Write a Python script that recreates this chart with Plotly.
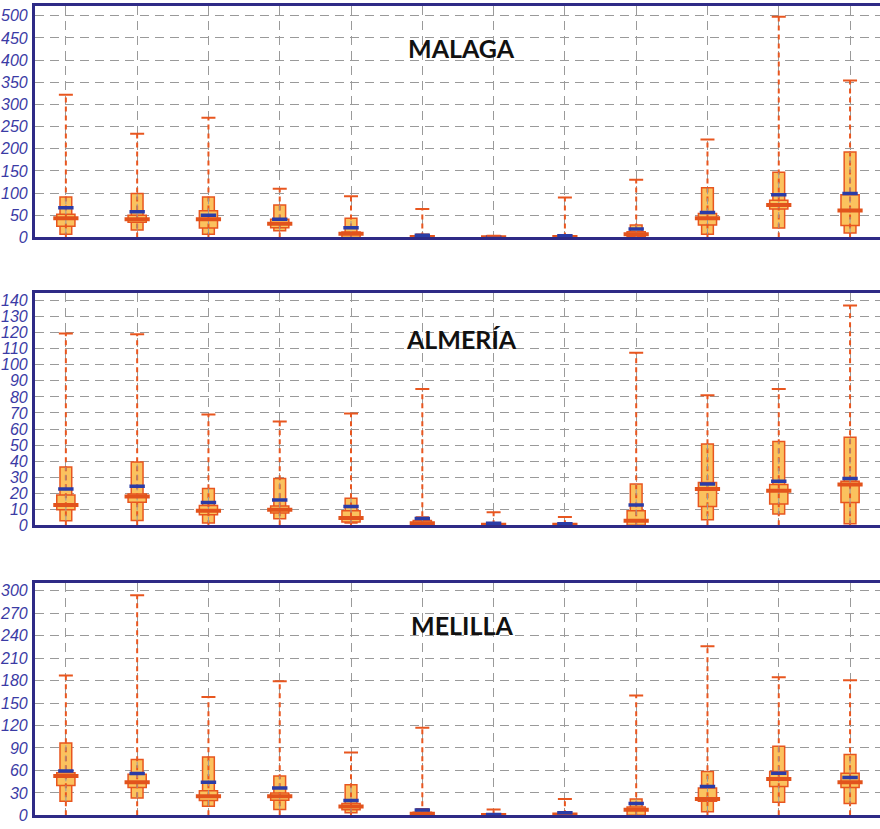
import plotly.graph_objects as go

months = list(range(1, 13))

# ---- MALAGA ----
mal_max = [322, 234, 270, 110, 93, 64, 4, 90, 130, 221, 498, 354]
mal_p90 = [91, 99, 91, 73, 43, 7, 2, 5, 28, 112, 147, 193]
mal_p75 = [52, 50, 60, 41, 12, 3, 1, 2, 13, 54, 84, 96]
mal_med = [43, 41, 41, 31, 8, 1, 0.5, 1, 7, 43, 73, 61]
mal_p25 = [25, 34, 21, 22, 0, 0, 0, 0, 2, 28, 64, 27]
mal_p10 = [7, 17, 7, 15, 1, 0, 0, 0, 0, 7, 21, 10]
mal_mean = [67, 58, 50, 41, 22, 5, 1, 4, 19, 56, 96, 99]

# ---- ALMERÍA ----
alm_max = [119.5, 119, 69, 64.7, 69.6, 85, 8.2, 5.2, 107.6, 81, 85, 137]
alm_p90 = [36.3, 39.4, 23, 29.2, 16.9, 5.2, 1.5, 1, 25.7, 50.7, 52.2, 54.8]
alm_p75 = [18.9, 19.5, 12.3, 12.1, 9, 3, 1, 0.6, 9, 26.7, 25.5, 27.5]
alm_med = [12.7, 17.9, 9, 9.7, 4.5, 1.2, 0.4, 0.3, 2.9, 22.6, 21.5, 25.5]
alm_p25 = [9.7, 14.4, 6.6, 7.6, 2, 0, 0, 0, 0, 11.7, 13.2, 14.2]
alm_p10 = [2.9, 3, 1.5, 4.1, 1.5, 0, 0, 0, 0, 3.5, 7, 0.9]
alm_mean = [22.6, 24.4, 14.2, 15.8, 11.7, 4.3, 1.3, 1, 12.7, 25.7, 27.5, 29.2]

# ---- MELILLA ----
mel_max = [186.6, 294, 158, 179, 83.8, 117, 7.9, 21.9, 160, 225.8, 184.4, 180.5]
mel_p90 = [96.6, 74.6, 78, 52.7, 40.8, 8.8, 2, 4, 21.9, 58.4, 92.2, 81.2]
mel_p75 = [57, 54.8, 33, 29.8, 15.8, 4, 1, 2, 11, 36.4, 58.4, 56.1]
mel_med = [52.7, 44.3, 25.4, 25.4, 11.9, 2, 0.5, 1, 7.4, 21.9, 48.7, 44.3]
mel_p25 = [40, 37.3, 19.8, 20.2, 7.4, 0, 0, 0, 0, 18.8, 38.6, 37.3]
mel_p10 = [18.8, 23.2, 12.3, 7.9, 3.4, 0, 0, 0, 0, 4.7, 17.5, 15.8]
mel_mean = [59.3, 56, 44.3, 36.4, 19.8, 7, 1, 3.4, 15.8, 38.6, 56.1, 50.5]

panels = [
    ("MALAGA", mal_max, mal_p90, mal_p75, mal_med, mal_p25, mal_p10, mal_mean, 523, 50),
    ("ALMERÍA", alm_max, alm_p90, alm_p75, alm_med, alm_p25, alm_p10, alm_mean, 144.5, 10),
    ("MELILLA", mel_max, mel_p90, mel_p75, mel_med, mel_p25, mel_p10, mel_mean, 310, 30),
]

W, H = 880, 829
domains_px = [(4.7, 239.3), (296, 530.7), (589.3, 824.3)]

FILL = "#FBC25E"
EDGE = "#E8561F"
MED = "#E2531C"
MEAN = "#2B3CA6"
NAVY = "#2E2A86"
GRID = "#9A9A9A"
TICK = "#3B3BA5"

fig = go.Figure()
layout = dict(
    width=W, height=H, margin=dict(l=0, r=0, t=0, b=0),
    paper_bgcolor="white", plot_bgcolor="white",
    showlegend=False, barmode="overlay", annotations=[],
)

for i, (name, mx, p90, p75, med, p25, p10, mean, ytop, dt) in enumerate(panels):
    xa = "x" if i == 0 else f"x{i+1}"
    ya = "y" if i == 0 else f"y{i+1}"
    # whisker
    wx, wy = [], []
    for m, hi in zip(months, mx):
        wx += [m, m, None]
        wy += [0, hi, None]
    fig.add_trace(go.Scatter(x=wx, y=wy, mode="lines", xaxis=xa, yaxis=ya,
                             line=dict(color=EDGE, width=2, dash="5px,4px"),
                             hoverinfo="skip"))
    # narrow box p10-p90
    fig.add_trace(go.Bar(x=months, y=[a - b for a, b in zip(p90, p10)], base=p10,
                         width=0.165, xaxis=xa, yaxis=ya,
                         marker=dict(color=FILL, line=dict(color=EDGE, width=1.5))))
    # wide box p25-p75
    fig.add_trace(go.Bar(x=months, y=[a - b for a, b in zip(p75, p25)], base=p25,
                         width=0.255, xaxis=xa, yaxis=ya,
                         marker=dict(color=FILL, line=dict(color=EDGE, width=1.5))))
    # grey dashed centre line inside boxes
    gx, gy = [], []
    for m, lo, hi in zip(months, p10, p90):
        gx += [m, m, None]
        gy += [lo, hi, None]
    fig.add_trace(go.Scatter(x=gx, y=gy, mode="lines", xaxis=xa, yaxis=ya,
                             line=dict(color=GRID, width=1, dash="6px,4px"),
                             hoverinfo="skip"))
    # median
    fig.add_trace(go.Scatter(x=months, y=med, mode="markers", xaxis=xa, yaxis=ya,
                             marker=dict(symbol="line-ew", size=18,
                                         line=dict(color=MED, width=4))))
    # mean
    fig.add_trace(go.Scatter(x=months, y=mean, mode="markers", xaxis=xa, yaxis=ya,
                             marker=dict(symbol="line-ew", size=11,
                                         line=dict(color=MEAN, width=3.5))))
    # cap
    fig.add_trace(go.Scatter(x=months, y=mx, mode="markers", xaxis=xa, yaxis=ya,
                             marker=dict(symbol="line-ew", size=10,
                                         line=dict(color=EDGE, width=2))))

    top, bot = domains_px[i]
    ydom = [1 - bot / H, 1 - top / H]
    xkey = "xaxis" if i == 0 else f"xaxis{i+1}"
    ykey = "yaxis" if i == 0 else f"yaxis{i+1}"
    layout[xkey] = dict(domain=[33 / W, 1], range=[0.566, 12.42], anchor=ya,
                        tickvals=months, showticklabels=False, ticks="",
                        showgrid=True, gridcolor=GRID, griddash="9px,6px", gridwidth=1,
                        showline=True, linecolor=NAVY, linewidth=3, mirror=True,
                        zeroline=False)
    layout[ykey] = dict(domain=ydom, range=[0, ytop], anchor=xa,
                        tick0=0, dtick=dt, ticks="",
                        showgrid=True, gridcolor=GRID, griddash="9px,6px", gridwidth=1,
                        showline=True, linecolor=NAVY, linewidth=3, mirror=False,
                        zeroline=False, ticklabelstandoff=1,
                        tickfont=dict(family="Liberation Sans", size=16,
                                      color=TICK, style="italic"))
    ty = [47.3, 341.7, 631.7][i]
    layout["annotations"].append(dict(
        text=f"<b>{name}</b>", x=461 / W, y=1 - ty / H, xref="paper", yref="paper",
        showarrow=False, xanchor="center", yanchor="middle",
        font=dict(family="Lato", size=25, color="#111111")))

fig.update_layout(**layout)
fig.write_html("out.html")
